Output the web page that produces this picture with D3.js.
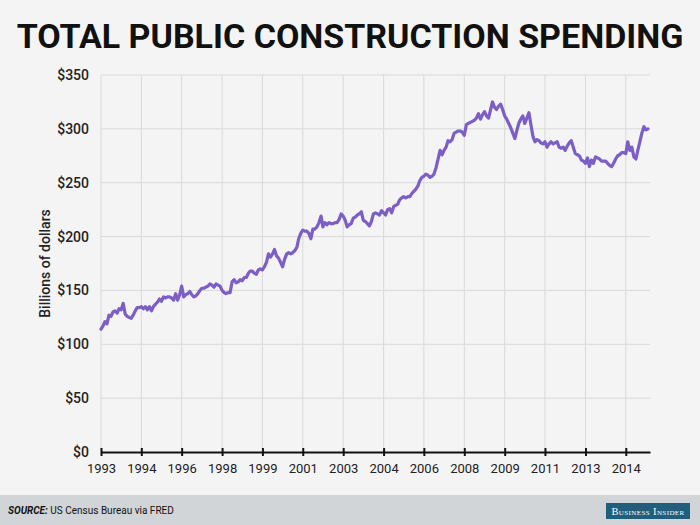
<!DOCTYPE html>
<html>
<head>
<meta charset="utf-8">
<script src="https://cdn.jsdelivr.net/npm/d3@7"></script>
<style>
  html, body { margin: 0; padding: 0; background: #f4f4f4; }
  svg { display: block; }
</style>
</head>
<body>
<svg id="chart" width="700" height="525"></svg>
<script>
// Monthly values, billions of dollars (SAAR), starting January 1993
const startYear = 1993;
const spending = [
  // 1993
  114, 117, 121, 119, 127, 126, 130, 131, 129, 133, 132, 138,
  // 1994
  128, 126, 125, 124, 127, 131, 134, 134, 135, 133, 135, 132,
  // 1995
  135, 131, 135, 137, 139, 142, 140, 144, 143, 144, 144, 143,
  // 1996
  141, 147, 141, 146, 154, 144, 146, 147, 149, 146, 144, 145,
  // 1997
  147, 150, 152, 152, 153, 154, 156, 155, 153, 156, 155, 154,
  // 1998
  150, 148, 147, 148, 148, 158, 160, 157, 158, 160, 159, 162,
  // 1999
  162, 166, 168, 168, 166, 165, 169, 170, 169, 172, 176, 184,
  // 2000
  181, 184, 188, 182, 180, 176, 172, 179, 184, 185, 184, 185,
  // 2001
  187, 190, 198, 203, 206, 205, 205, 203, 198, 207, 207, 209,
  // 2002
  213, 219, 209, 213, 211, 213, 212, 212, 213, 213, 216, 221,
  // 2003
  219, 215, 209, 211, 212, 217, 218, 220, 221, 223, 215, 214,
  // 2004
  212, 210, 214, 221, 222, 221, 220, 224, 222, 220, 225, 226,
  // 2005
  222, 228, 229, 230, 234, 236, 237, 236, 237, 237, 240, 242,
  // 2006
  244, 247, 252, 255, 256, 258, 257, 255, 256, 258, 264, 272,
  // 2007
  280, 276, 280, 283, 289, 288, 290, 296, 297, 298, 298, 297,
  // 2008
  294, 304, 305, 306, 307, 308, 310, 314, 309, 313, 316, 312,
  // 2009
  310, 318, 325, 320, 318, 321, 323, 318, 312, 309, 305, 301,
  // 2010
  296, 291, 298, 305, 309, 312, 305, 310, 315, 304, 293, 288,
  // 2011
  290, 289, 287, 286, 288, 283, 286, 288, 286, 287, 288, 283,
  // 2012
  282, 283, 280, 284, 287, 289, 283, 277, 276, 275, 271, 270,
  // 2013
  268, 273, 265, 271, 268, 274, 273, 272, 270, 270, 270, 268,
  // 2014
  266, 265, 268, 272, 275, 276, 278, 278, 277, 288, 280, 283,
  // 2015
  274, 272, 280, 288, 296, 302, 299, 300
];
const yTicks = [0, 50, 100, 150, 200, 250, 300, 350];
const xTickMonthStep = 20; // ticks every 20 months, labelled by year
const titleText = "TOTAL PUBLIC CONSTRUCTION SPENDING";
const yLabel = "Billions of dollars";
const sourceLabel = "SOURCE:";
const sourceText = " US Census Bureau via FRED";
const brandText = "Business Insider";

const data = spending.map((v, i) => ({ date: new Date(startYear, i, 1), value: v }));

const svg = d3.select("#chart");
const W = 700, H = 525;
const margin = { left: 101, right: 50, top: 75, bottom: 73 };

svg.append("rect").attr("width", W).attr("height", H).attr("fill", "#f4f4f4");

const x = d3.scaleTime()
  .domain([new Date(startYear, 0, 1), new Date(startYear, spending.length, 1)])
  .range([margin.left, W - margin.right]);
const y = d3.scaleLinear().domain([0, 350]).range([H - margin.bottom, margin.top]);

const xTickValues = d3.range(0, spending.length, xTickMonthStep).map(i => new Date(startYear, i, 1));

// gridlines
const grid = svg.append("g");
grid.selectAll("line.h").data(yTicks.filter(d => d > 0)).join("line")
  .attr("x1", margin.left).attr("x2", W - margin.right)
  .attr("y1", d => y(d)).attr("y2", d => y(d))
  .attr("stroke", "#d9d9d9").attr("stroke-width", 1);
grid.selectAll("line.v").data(xTickValues).join("line")
  .attr("x1", d => x(d)).attr("x2", d => x(d))
  .attr("y1", y(0)).attr("y2", y(350))
  .attr("stroke", "#d9d9d9").attr("stroke-width", 1);

// line
const line = d3.line().x(d => x(d.date)).y(d => y(d.value));
svg.append("path").datum(data)
  .attr("d", line)
  .attr("fill", "none")
  .attr("stroke", "#7b5ec6")
  .attr("stroke-width", 3.2)
  .attr("stroke-linejoin", "round")
  .attr("stroke-linecap", "round");

// x axis
const xAxis = svg.append("g")
  .attr("transform", `translate(0,${y(0)})`)
  .call(d3.axisBottom(x).tickValues(xTickValues).tickFormat(d3.timeFormat("%Y")).tickSize(0).tickPadding(12));
xAxis.select(".domain").attr("stroke", "#111").attr("stroke-width", 2);
xAxis.selectAll(".tick line").remove();
xAxis.selectAll(".tick").append("line")
  .attr("y1", -4).attr("y2", 4).attr("stroke", "#111").attr("stroke-width", 2);
xAxis.selectAll("text")
  .attr("font-family", "Roboto, sans-serif").attr("font-size", 13).attr("fill", "#222");

// y axis
const yAxis = svg.append("g")
  .attr("transform", `translate(${margin.left},0)`)
  .call(d3.axisLeft(y).tickValues(yTicks).tickFormat(d => "$" + d).tickSize(0).tickPadding(12));
yAxis.select(".domain").remove();
yAxis.selectAll("text")
  .attr("font-family", "Roboto, sans-serif").attr("font-size", 14).attr("font-weight", 500).attr("fill", "#222");

// y label
svg.append("text")
  .attr("transform", `translate(50,${(y(0) + y(350)) / 2}) rotate(-90)`)
  .attr("text-anchor", "middle")
  .attr("font-family", "Roboto, sans-serif").attr("font-size", 14).attr("font-weight", 500)
  .attr("fill", "#222")
  .text(yLabel);

// title
svg.append("text")
  .attr("x", W / 2).attr("y", 48)
  .attr("text-anchor", "middle")
  .attr("font-family", "Roboto, sans-serif").attr("font-size", 34).attr("font-weight", 700)
  .attr("fill", "#111")
  .text(titleText);

// footer
svg.append("rect").attr("x", 0).attr("y", 495).attr("width", W).attr("height", 30).attr("fill", "#d2d5d7");
const src = svg.append("text").attr("x", 8).attr("y", 514)
  .attr("font-family", "Roboto, sans-serif").attr("font-size", 10).attr("fill", "#111");
src.append("tspan").attr("font-weight", 700).attr("font-style", "italic").text(sourceLabel);
src.append("tspan").text(sourceText);

svg.append("rect").attr("x", 606).attr("y", 503).attr("width", 84).attr("height", 16).attr("fill", "#215e7c");
svg.append("text").attr("x", 648).attr("y", 515)
  .attr("text-anchor", "middle")
  .attr("font-family", "'Liberation Serif', 'DejaVu Serif', serif").attr("font-size", 10.5)
  .attr("font-variant", "small-caps").attr("letter-spacing", 0.4)
  .attr("fill", "#fff")
  .text(brandText);
</script>
</body>
</html>
